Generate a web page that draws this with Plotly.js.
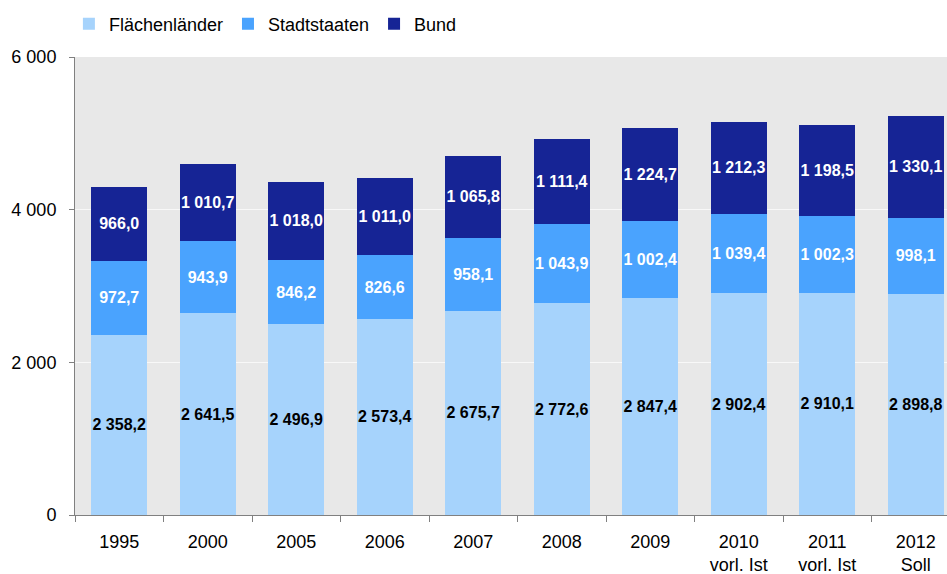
<!DOCTYPE html>
<html>
<head>
<meta charset="utf-8">
<script src="https://cdn.plot.ly/plotly-3.0.1.min.js"></script>
<style>html,body{margin:0;padding:0;overflow:hidden;background:#fff}</style>
</head>
<body>
<div id="chart" style="width:947px;height:574px"></div>
<script>
var categories = ["1995", "2000", "2005", "2006", "2007", "2008", "2009", "2010<br>vorl. Ist", "2011<br>vorl. Ist", "2012<br>Soll"];
var flaechenlaender = [2358.2, 2641.5, 2496.9, 2573.4, 2675.7, 2772.6, 2847.4, 2902.4, 2910.1, 2898.8];
var stadtstaaten = [972.7, 943.9, 846.2, 826.6, 958.1, 1043.9, 1002.4, 1039.4, 1002.3, 998.1];
var bund = [966.0, 1010.7, 1018.0, 1011.0, 1065.8, 1111.4, 1224.7, 1212.3, 1198.5, 1330.1];
var seriesNames = ["Flächenländer", "Stadtstaaten", "Bund"];
var yTicks = [0, 2000, 4000, 6000];

function series(name, vals, color, textColor) {
  return {
    type: "bar", name: name, x: categories, y: vals,
    marker: {color: color, line: {width: 0}},
    texttemplate: "%{y:,.1f}", textposition: "inside", insidetextanchor: "middle",
    textangle: 0, constraintext: "none",
    textfont: {family: "Liberation Sans, Arial, sans-serif", size: 16, color: textColor, weight: "bold"},
    hoverinfo: "skip"
  };
}
var data = [
  series(seriesNames[0], flaechenlaender, "#a6d3fc", "#000000"),
  series(seriesNames[1], stadtstaaten, "#4aa3fe", "#ffffff"),
  series(seriesNames[2], bund, "#162495", "#ffffff")
];
var layout = {
  width: 947, height: 574,
  margin: {l: 75, r: 0, t: 57, b: 59, pad: 0},
  barmode: "stack", bargap: 0.367,
  separators: ", ",
  paper_bgcolor: "#ffffff", plot_bgcolor: "#e8e8e8",
  font: {family: "Liberation Sans, Arial, sans-serif", size: 18, color: "#000"},
  showlegend: true,
  legend: {orientation: "h", x: -0.007, xanchor: "left", y: 1.072, yanchor: "middle",
    font: {size: 18}, traceorder: "normal", itemwidth: 30, bgcolor: "rgba(0,0,0,0)"},
  xaxis: {type: "category", range: [-0.5, 9.353], showgrid: false,
    showline: true, linecolor: "#808080", linewidth: 1,
    ticks: "outside", tickson: "boundaries", ticklen: 6, tickcolor: "#808080",
    ticklabelstandoff: 10, tickfont: {size: 18}, fixedrange: true},
  yaxis: {range: [0, 6000], tickvals: yTicks, tickformat: ",d",
    showgrid: true, gridcolor: "#f8f8f8", gridwidth: 1, zeroline: false,
    showline: true, linecolor: "#808080", linewidth: 1,
    ticks: "outside", ticklen: 5, tickcolor: "#808080",
    ticklabelstandoff: 9, tickfont: {size: 18}, fixedrange: true}
};
Plotly.newPlot("chart", data, layout, {displayModeBar: false, staticPlot: true});
</script>
</body>
</html>
